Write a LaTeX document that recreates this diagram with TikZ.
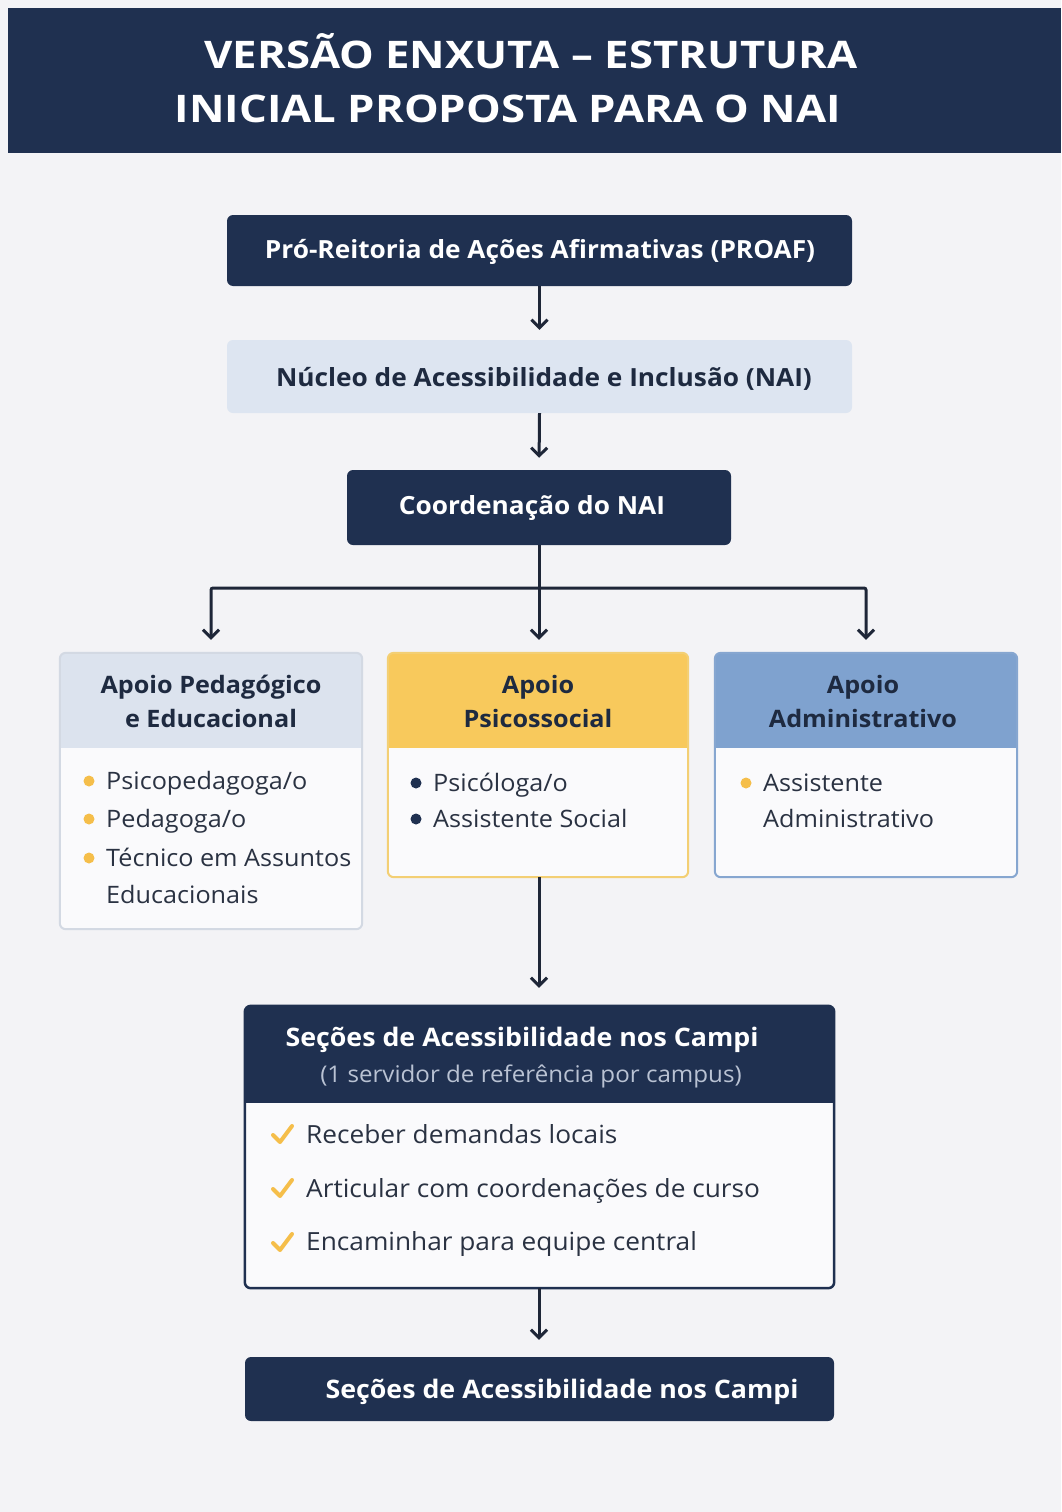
\documentclass[tikz,border=0pt]{standalone}
\usepackage{fontspec}
\setmainfont{Open Sans}[FakeStretch=1.05]
\newfontfamily\ttlfont{Open Sans}[FakeStretch=1.15]
\usetikzlibrary{arrows.meta,calc}
\definecolor{navy}{HTML}{1F3050}
\definecolor{bgc}{HTML}{F3F3F6}
\definecolor{naifill}{HTML}{DDE5F1}
\definecolor{pedhead}{HTML}{DCE3EE}
\definecolor{pedline}{HTML}{D3D9E3}
\definecolor{psihead}{HTML}{F8C95C}
\definecolor{psiline}{HTML}{F3CF74}
\definecolor{admhead}{HTML}{7FA2CF}
\definecolor{admline}{HTML}{86A6D0}
\definecolor{bodyfill}{HTML}{FAFAFC}
\definecolor{arrc}{HTML}{1E2638}
\definecolor{dotc}{HTML}{F5BE4A}
\definecolor{txtc}{HTML}{1E2A40}
\definecolor{bodytxt}{HTML}{2A3242}
\definecolor{subc}{HTML}{B9C2D3}
\begin{document}
\begin{tikzpicture}[x=1pt,y=-1pt,
  darkbox/.style={fill=navy, rounded corners=6, inner sep=0pt},
  boxtxt/.style={font=\fontsize{25}{30}\selectfont\bfseries, text=white, anchor=base, inner sep=0pt},
  headtxt/.style={font=\fontsize{24}{30}\selectfont\bfseries, text=txtc, anchor=base, inner sep=0pt},
  itemtxt/.style={font=\fontsize{24}{29}\selectfont, text=bodytxt, anchor=base west, inner sep=0pt},
  chktxt/.style={font=\fontsize{25}{30}\selectfont, text=bodytxt, anchor=base west, inner sep=0pt},
  ttl/.style={font=\ttlfont\fontsize{38}{44}\selectfont\bfseries, text=white, anchor=base, inner sep=0pt},
  arr/.style={draw=arrc, line width=3pt, -{Straight Barb[length=8pt,width=16pt,line width=3pt]}},
  lin/.style={draw=arrc, line width=3pt},
  chk/.style={draw=dotc, line width=4pt, line cap=round, line join=round}
]
\useasboundingbox (0,0) rectangle (1061,1512);
\fill[bgc] (0,0) rectangle (1061,1512);

% header
\node[fill=navy, minimum width=1053, minimum height=145, anchor=north west, inner sep=0pt] (header) at (8,8) {};
\node[ttl] (title1) at (531,68) {VERSÃO ENXUTA – ESTRUTURA};
\node[ttl] (title2) at (508,122) {INICIAL PROPOSTA PARA O NAI};

% top chain
\node[darkbox, minimum width=625, minimum height=71] (proaf) at (539.5,250.5) {};
\node[boxtxt] (proaft) at (540,258) {Pró-Reitoria de Ações Afirmativas (PROAF)};
\node[fill=naifill, rounded corners=6, minimum width=625, minimum height=73, inner sep=0pt] (nai) at (539.5,376.5) {};
\node[boxtxt, text=txtc] (nait) at (544,386) {Núcleo de Acessibilidade e Inclusão (NAI)};
\node[darkbox, minimum width=384, minimum height=75] (coord) at (539,507.5) {};
\node[boxtxt] (coordt) at (532,514) {Coordenação do NAI};

% three cards
\node[fill=bodyfill, rounded corners=6, minimum width=302, minimum height=276, inner sep=0pt] (ped) at (211,791) {};
\fill[pedhead] ([yshift=-95]ped.north west) [rounded corners=6]-- (ped.north west) -- (ped.north east) [sharp corners]-- ([yshift=-95]ped.north east) -- cycle;
\draw[pedline, line width=2pt, rounded corners=6] (ped.north west) rectangle (ped.south east);

\node[fill=bodyfill, rounded corners=6, minimum width=300, minimum height=224, inner sep=0pt] (psi) at (538,765) {};
\fill[psihead] ([yshift=-95]psi.north west) [rounded corners=6]-- (psi.north west) -- (psi.north east) [sharp corners]-- ([yshift=-95]psi.north east) -- cycle;
\draw[psiline, line width=2pt, rounded corners=6] (psi.north west) rectangle (psi.south east);

\node[fill=bodyfill, rounded corners=6, minimum width=302, minimum height=224, inner sep=0pt] (adm) at (866,765) {};
\fill[admhead] ([yshift=-95]adm.north west) [rounded corners=6]-- (adm.north west) -- (adm.north east) [sharp corners]-- ([yshift=-95]adm.north east) -- cycle;
\draw[admline, line width=2pt, rounded corners=6] (adm.north west) rectangle (adm.south east);

\node[headtxt] (pedh1) at (211,693) {Apoio Pedagógico};
\node[headtxt] (pedh2) at (211,727) {e Educacional};
\node[headtxt] (psih1) at (538,693) {Apoio};
\node[headtxt] (psih2) at (538,727) {Psicossocial};
\node[headtxt] (admh1) at (863,693) {Apoio};
\node[headtxt] (admh2) at (863,727) {Administrativo};

% left items
\fill[dotc] (89,781) circle (5.5);
\fill[dotc] (89,819) circle (5.5);
\fill[dotc] (89,858) circle (5.5);
\node[itemtxt] (p1) at (106,789) {Psicopedagoga/o};
\node[itemtxt] (p2) at (106,827) {Pedagoga/o};
\node[itemtxt] (p3) at (106,866) {Técnico em Assuntos};
\node[itemtxt] (p4) at (106,903) {Educacionais};
% middle items
\fill[navy] (416,783) circle (5.5);
\fill[navy] (416,819) circle (5.5);
\node[itemtxt] (s1) at (433,791) {Psicóloga/o};
\node[itemtxt] (s2) at (433,827) {Assistente Social};
% right items
\fill[dotc] (746,783) circle (5.5);
\node[itemtxt] (a1) at (763,791) {Assistente};
\node[itemtxt] (a2) at (763,827) {Administrativo};

% campi box
\node[fill=bodyfill, rounded corners=6, minimum width=589, minimum height=282, inner sep=0pt] (campi) at (539.5,1147) {};
\fill[navy] ([yshift=-97]campi.north west) [rounded corners=6]-- (campi.north west) -- (campi.north east) [sharp corners]-- ([yshift=-97]campi.north east) -- cycle;
\draw[navy, line width=2.5pt, rounded corners=6] (campi.north west) rectangle (campi.south east);
\node[boxtxt, font=\fontsize{25.5}{30}\selectfont\bfseries] (campit) at (522,1046) {Seções de Acessibilidade nos Campi};
\node[font=\fontsize{23}{28}\selectfont, text=subc, anchor=base, inner sep=0pt] (campis) at (531,1082) {(1 servidor de referência por campus)};
\draw[chk] (273,1135) -- (280,1142) -- (292,1126);
\draw[chk] (273,1189) -- (280,1196) -- (292,1180);
\draw[chk] (273,1243) -- (280,1250) -- (292,1234);
\node[chktxt] (c1) at (306,1143) {Receber demandas locais};
\node[chktxt] (c2) at (306,1197) {Articular com coordenações de curso};
\node[chktxt] (c3) at (306,1250) {Encaminhar para equipe central};

% bottom box
\node[darkbox, minimum width=589, minimum height=64] (bottom) at (539.5,1389) {};
\node[boxtxt, font=\fontsize{25.5}{30}\selectfont\bfseries] (bottomt) at (562,1398) {Seções de Acessibilidade nos Campi};

% connectors
\draw[arr, shorten >=10pt] (proaf.south) -- (nai.north);
\draw[arr, shorten >=12pt] (nai.south) -- (coord.north);
\coordinate (junc) at (539,588);
\draw[lin] (coord.south) -- (junc);
\draw[arr, shorten >=13pt, rounded corners=2] (junc) -| (ped.north);
\draw[arr, shorten >=13pt] (junc) -- (psi.north -| junc);
\draw[arr, shorten >=13pt, rounded corners=2] (junc) -| (adm.north);
\draw[arr, shorten >=18pt] (psi.south -| junc) -- (campi.north -| junc);
\draw[arr, shorten >=17pt] (campi.south -| junc) -- (bottom.north -| junc);
\end{tikzpicture}
\end{document}
